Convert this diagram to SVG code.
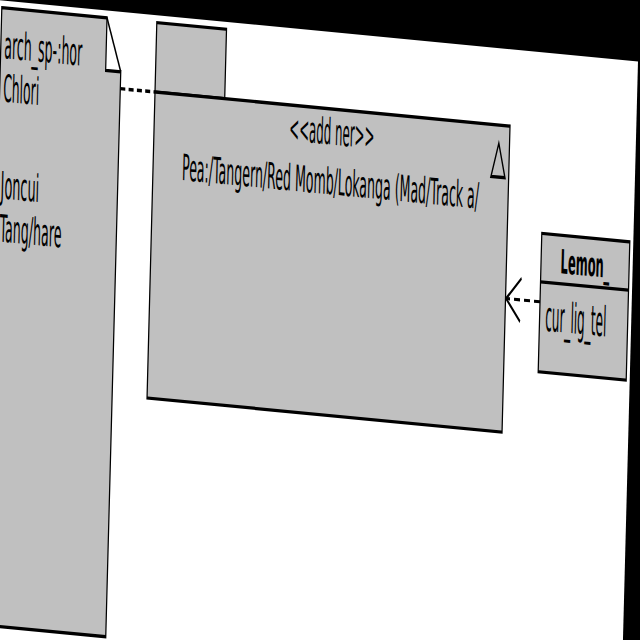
<svg xmlns="http://www.w3.org/2000/svg" width="640" height="640" viewBox="0 0 640 640">
<defs>
<style>
.shape{fill:#c0c0c0;stroke:#000;stroke-width:1.25}
.line{fill:none;stroke:#000;stroke-width:1.25}
.dash1{fill:none;stroke:#000;stroke-width:1.3;stroke-dasharray:5 3.3}
.dash2{fill:none;stroke:#000;stroke-width:1.2;stroke-dasharray:6 4}
text{font-family:"DejaVu Sans","Liberation Sans",sans-serif;fill:#000}
.t{font-size:14.5px}
.p{font-size:14px}
.b{font-size:12.8px;font-weight:bold}
.a{font-size:16px}
</style>
</defs>
<rect width="640" height="640" fill="#000"/>
<g transform="matrix(1,0.096,-0.0676,2.6,7.03,-0.4)">
<rect x="-60" y="0.5" width="691" height="400" fill="#fff"/>
<g id="connectors">
<line class="dash1" x1="115.3" y1="30" x2="150" y2="30"/>
<line class="dash2" x1="539.5" y1="96.3" x2="506" y2="96.3"/>
<polyline class="line" points="520.5,88 505.5,96.3 520,104.7"/>
</g>
<g id="note">
<path class="shape" d="M-5,3.3 H100.2 V23.5 H115.3 L115,240.8 H-5 Z"/>
<path class="line" d="M100.2,3.3 L115.3,23.5"/>
<text class="t" x="-1.5" y="22.6" textLength="78" lengthAdjust="spacingAndGlyphs">arch_sp-:hor</text>
<text class="t" x="-1.5" y="39.3" textLength="36" lengthAdjust="spacingAndGlyphs">Chlori</text>
<text class="t" x="-1.5" y="76.5" textLength="38.5" lengthAdjust="spacingAndGlyphs">Joncui</text>
<text class="t" x="-1.5" y="93.1" textLength="62" lengthAdjust="spacingAndGlyphs">Tang/hare</text>
</g>
<g id="package">
<rect class="shape" x="150" y="3.3" width="69.7" height="26.7"/>
<rect class="shape" x="150" y="30" width="355" height="117.7"/>
<polygon class="line" points="494.3,37 487.3,50 501.3,50"/>
<text class="p" x="327.5" y="43.7" text-anchor="middle" textLength="85" lengthAdjust="spacingAndGlyphs">&lt;&lt;add ner&gt;&gt;</text>
<text class="p" x="327.5" y="62.8" text-anchor="middle" textLength="297" lengthAdjust="spacingAndGlyphs">Pea:/Tangern/Red Momb/Lokanga (Mad/Track a/</text>
</g>
<g id="lemon">
<rect class="shape" x="539.5" y="70" width="88" height="53.2"/>
<line class="line" x1="539.5" y1="88.6" x2="627.5" y2="88.6"/>
<text class="b" x="583.5" y="84.6" text-anchor="middle" textLength="49" lengthAdjust="spacingAndGlyphs">Lemon_</text>
<text class="a" x="545.2" y="107.2" textLength="61" lengthAdjust="spacingAndGlyphs">cur_lig_tel</text>
</g>
</g>
</svg>
